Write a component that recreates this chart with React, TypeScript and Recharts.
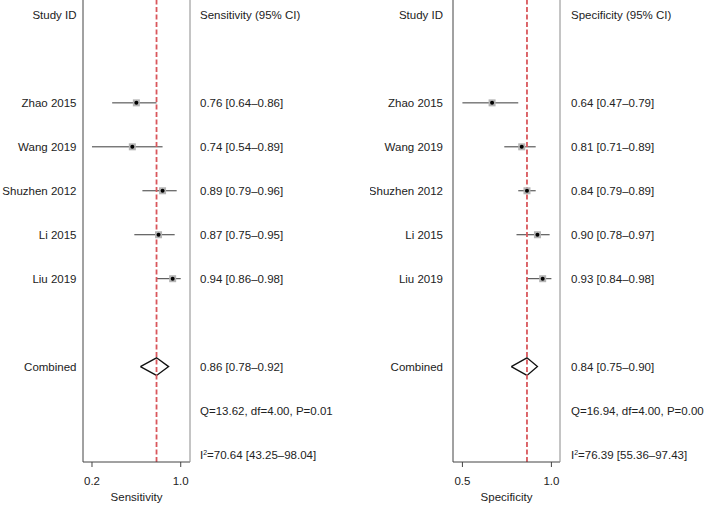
import React from 'react'
import { ComposedChart, Scatter, ErrorBar, Line, XAxis, YAxis, ReferenceLine } from 'recharts'

// study rows (0 = header, 8 = pooled, 9 = Q, 10 = I2)
const studies = ['Zhao 2015', 'Wang 2019', 'Shuzhen 2012', 'Li 2015', 'Liu 2019']
const studyRows = [2, 3, 4, 5, 6]
const pooledRow = 8
const hetRow = 9
const i2Row = 10

const sensEst = [0.76, 0.74, 0.89, 0.87, 0.94]
const sensLo = [0.64, 0.54, 0.79, 0.75, 0.86]
const sensHi = [0.86, 0.89, 0.96, 0.95, 0.98]
const sensPooled = [0.86, 0.78, 0.92] // est, lo, hi
const sensHet = [13.62, 4.0, 0.01] // Q, df, P
const sensI2 = [70.64, 43.25, 98.04]
const sensTicks = [0.54, 0.98]
const sensTickLabels = ['0.2', '1.0']

const specEst = [0.64, 0.81, 0.84, 0.9, 0.93]
const specLo = [0.47, 0.71, 0.79, 0.78, 0.84]
const specHi = [0.79, 0.89, 0.89, 0.97, 0.98]
const specPooled = [0.84, 0.75, 0.9]
const specHet = [16.94, 4.0, 0.0]
const specI2 = [76.39, 55.36, 97.43]
const specTicks = [0.47, 0.98]
const specTickLabels = ['0.5', '1.0']

const FONT = 11.5
const TEXT = '#222'
const fmt = (v: number) => v.toFixed(2)

interface PanelProps {
  name: string
  est: number[]
  lo: number[]
  hi: number[]
  pooled: number[]
  het: number[]
  i2: number[]
  ticks: number[]
  tickLabels: string[]
  domain: [number, number]
  width: number
  leftGap: number
  rightGap: number
}

function ForestPanel(p: PanelProps) {
  const points = studies.map((s, i) => ({
    x: p.est[i],
    y: studyRows[i],
    err: [p.est[i] - p.lo[i], p.hi[i] - p.est[i]],
  }))
  const [pe, pl, ph] = p.pooled
  const diamond = [
    { x: pl, y: pooledRow },
    { x: pe, y: pooledRow - 0.2 },
    { x: ph, y: pooledRow },
    { x: pe, y: pooledRow + 0.2 },
    { x: pl, y: pooledRow },
  ]

  const leftLabels: Record<number, string> = { 0: 'Study ID', [pooledRow]: 'Combined' }
  studies.forEach((s, i) => (leftLabels[studyRows[i]] = s))

  const rightLabels: Record<number, string> = {
    0: `${p.name} (95% CI)`,
    [pooledRow]: `${fmt(pe)} [${fmt(pl)}\u2013${fmt(ph)}]`,
    [hetRow]: `Q=${fmt(p.het[0])}, df=${fmt(p.het[1])}, P=${fmt(p.het[2])}`,
  }
  studies.forEach((s, i) => (rightLabels[studyRows[i]] = `${fmt(p.est[i])} [${fmt(p.lo[i])}\u2013${fmt(p.hi[i])}]`))

  const leftTick = (t: any) => (
    <text x={t.x} y={t.y + 4.1} textAnchor="end" fontSize={FONT} fill={TEXT}>
      {leftLabels[t.payload.value]}
    </text>
  )
  const rightTick = (t: any) => {
    if (t.payload.value === i2Row) {
      return (
        <text x={t.x} y={t.y + 4.1} textAnchor="start" fontSize={FONT} fill={TEXT}>
          <tspan>I</tspan>
          <tspan dy={-4} fontSize={7}>2</tspan>
          <tspan dy={4}>{`=${fmt(p.i2[0])} [${fmt(p.i2[1])}\u2013${fmt(p.i2[2])}]`}</tspan>
        </text>
      )
    }
    return (
      <text x={t.x} y={t.y + 4.1} textAnchor="start" fontSize={FONT} fill={TEXT}>
        {rightLabels[t.payload.value]}
      </text>
    )
  }

  const box = (s: any) => (
    <g>
      <rect x={s.cx - 3.5} y={s.cy - 3.5} width={7} height={7} fill="#b4b4b4" />
      <circle cx={s.cx} cy={s.cy} r={2} fill="#000" />
    </g>
  )

  return (
    <ComposedChart width={p.width} height={505} margin={{ top: 0, right: p.width - 191, bottom: 0, left: 82 }}>
      <XAxis
        type="number"
        dataKey="x"
        domain={p.domain}
        allowDataOverflow
        ticks={p.ticks}
        interval={0}
        tickFormatter={(v: number) => p.tickLabels[p.ticks.indexOf(v)]}
        height={43}
        tickSize={5}
        tickMargin={10}
        stroke="#444"
        tick={{ fill: TEXT, fontSize: FONT }}
        label={{ value: p.name, position: 'insideBottom', offset: 4, fill: TEXT, fontSize: FONT }}
      />
      <YAxis
        yAxisId="l"
        type="number"
        dataKey="y"
        domain={[-0.34, 10.17]}
        reversed
        allowDataOverflow
        width={1}
        ticks={[0, ...studyRows, pooledRow]}
        interval={0}
        tickLine={false}
        tickSize={0}
        tickMargin={p.leftGap}
        stroke="#444"
        tick={leftTick}
      />
      <YAxis
        yAxisId="r"
        orientation="right"
        type="number"
        dataKey="y"
        domain={[-0.34, 10.17]}
        reversed
        allowDataOverflow
        width={1}
        ticks={[0, ...studyRows, pooledRow, hetRow, i2Row]}
        interval={0}
        tickLine={false}
        tickSize={0}
        tickMargin={p.rightGap}
        stroke="#8a8a8a"
        tick={rightTick}
      />
      <Scatter yAxisId="l" data={points} shape={box} isAnimationActive={false}>
        <ErrorBar dataKey="err" direction="x" width={0} stroke="#3c3c3c" strokeWidth={1} isAnimationActive={false} />
      </Scatter>
      <Line
        yAxisId="l"
        data={diamond}
        dataKey="y"
        stroke="#111"
        strokeWidth={1.3}
        dot={false}
        activeDot={false}
        isAnimationActive={false}
      />
      <ReferenceLine yAxisId="l" x={pe} stroke="#d9575c" strokeWidth={1.8} strokeDasharray="5 2.5" />
    </ComposedChart>
  )
}

export default function App() {
  return (
    <div
      style={{
        position: 'absolute',
        left: 0,
        top: 0,
        width: 707,
        height: 505,
        background: '#fff',
        fontFamily: '"Liberation Sans", Arial, sans-serif',
        display: 'flex',
      }}
    >
      <ForestPanel
        name="Sensitivity"
        est={sensEst}
        lo={sensLo}
        hi={sensHi}
        pooled={sensPooled}
        het={sensHet}
        i2={sensI2}
        ticks={sensTicks}
        tickLabels={sensTickLabels}
        domain={[0.4954, 1.026]}
        width={370}
        leftGap={6.5}
        rightGap={10}
      />
      <ForestPanel
        name="Specificity"
        est={specEst}
        lo={specLo}
        hi={specHi}
        pooled={specPooled}
        het={specHet}
        i2={specI2}
        ticks={specTicks}
        tickLabels={specTickLabels}
        domain={[0.416, 1.0293]}
        width={337}
        leftGap={10}
        rightGap={11}
      />
    </div>
  )
}
